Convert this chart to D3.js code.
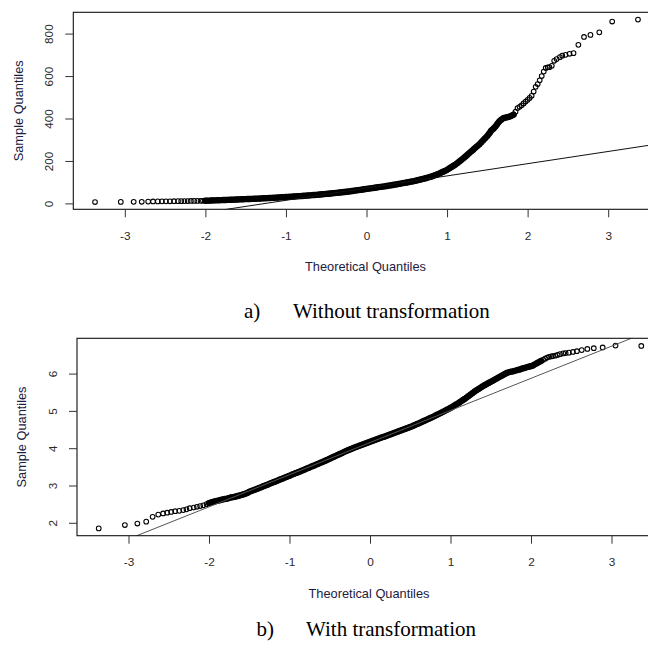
<!DOCTYPE html>
<html><head><meta charset="utf-8">
<script src="https://cdn.jsdelivr.net/npm/d3@7"></script>
<style>
html,body{margin:0;padding:0;background:#fff;}
svg{display:block;}
</style></head>
<body>
<svg id="chart" width="648" height="646"></svg>
<script>
// ---------------- data ----------------
const xTicks = [-3, -2, -1, 0, 1, 2, 3];
const topYTicks = [0, 200, 400, 600, 800];
const bottomYTicks = [2, 3, 4, 5, 6];
const xTitle = "Theoretical Quantiles";
const yTitle = "Sample Quantiles";
const captionLetters = ["a)", "b)"];
const captionTexts = ["Without transformation", "With transformation"];

// dense central band: theoretical quantile = bandStart + i * bandStep
const bandStart = -2.0;
const bandStep = 0.025;

// panel a) sample quantiles (original scale)
const topBand = [
  12.5,12.9,13.2,13.6,14.0,14.4,14.8,15.1,15.5,15.9,
  16.2,16.6,17.0,17.4,17.7,18.1,18.5,18.9,19.2,19.6,
  20.0,20.4,20.7,21.1,21.5,22.0,22.5,23.0,23.5,24.0,
  24.5,25.0,25.5,26.0,26.5,27.0,27.5,28.1,28.8,29.4,
  30.0,30.6,31.2,31.9,32.5,33.1,33.8,34.4,35.0,35.8,
  36.5,37.3,38.0,38.8,39.5,40.3,41.0,41.9,42.8,43.6,
  44.5,45.5,46.5,47.5,48.5,49.5,50.5,51.5,52.5,53.6,
  54.8,55.9,57.0,58.4,59.8,61.1,62.5,63.9,65.3,66.6,
  68.0,69.4,70.8,72.1,73.5,74.9,76.3,77.6,79.0,80.5,
  82.0,83.5,85.0,86.6,88.3,89.9,91.5,93.3,95.0,96.8,
  98.5,100.4,102.3,104.1,106.0,108.3,110.5,112.8,115.0,117.8,
  120.5,123.3,126.0,129.5,133.0,136.5,140.0,144.5,149.0,153.5,
  158,164,170,176,182,189,197,204,212,220,
  228,237,245,253,262,270,278,288,298,308,
  318,330,344,352,362,375,387,395,402,404,
  406,409,413,418,432,449,455,462,471,480,
  488,497,507,527,549,562,580,600,621,638,
  641
];
const topLowTail = [
  [-3.37,6.5],[-3.05,7.0],[-2.89,7.3],[-2.79,7.6],[-2.71,8.5],[-2.65,9.0],
  [-2.59,9.3],[-2.54,9.6],[-2.49,9.8],[-2.44,10.0],[-2.39,10.2],[-2.34,10.4],
  [-2.30,10.6],[-2.26,10.9],[-2.22,11.1],[-2.18,11.3],[-2.14,11.5],[-2.10,11.8],
  [-2.06,12.1],[-2.03,12.3]
];
const topHighTail = [
  [2.27,642],[2.30,648],[2.33,672],[2.36,680],[2.40,689],[2.43,696],[2.47,700],
  [2.52,705],[2.57,708],[2.63,747],[2.70,784],[2.78,794],[2.89,806],[3.05,857],[3.37,866]
];
const topQuartiles = [33.2, 110.8];   // sample Q1, Q3 used by the reference line

// panel b) sample quantiles (log scale)
const bottomBand = [
  2.53,2.545,2.56,2.575,2.59,2.60,2.615,2.63,2.64,2.65,
  2.665,2.68,2.69,2.70,2.715,2.73,2.745,2.76,2.78,2.80,
  2.83,2.85,2.87,2.89,2.915,2.935,2.955,2.98,3.00,3.02,
  3.045,3.065,3.09,3.11,3.13,3.155,3.175,3.195,3.22,3.24,
  3.26,3.285,3.305,3.33,3.35,3.37,3.395,3.415,3.44,3.465,
  3.485,3.51,3.53,3.555,3.575,3.60,3.62,3.645,3.67,3.695,
  3.72,3.745,3.77,3.795,3.82,3.845,3.87,3.895,3.92,3.943,
  3.965,3.988,4.01,4.03,4.05,4.07,4.09,4.11,4.13,4.15,
  4.17,4.19,4.21,4.23,4.25,4.27,4.29,4.31,4.33,4.35,
  4.37,4.39,4.41,4.43,4.45,4.47,4.49,4.51,4.53,4.55,
  4.57,4.59,4.615,4.64,4.66,4.685,4.71,4.735,4.76,4.785,
  4.81,4.835,4.86,4.89,4.915,4.94,4.97,4.995,5.025,5.05,
  5.08,5.11,5.145,5.18,5.21,5.25,5.285,5.32,5.36,5.40,
  5.44,5.48,5.52,5.555,5.59,5.625,5.66,5.69,5.72,5.75,
  5.78,5.81,5.84,5.87,5.90,5.93,5.96,5.99,6.02,6.035,
  6.05,6.06,6.075,6.09,6.105,6.12,6.14,6.155,6.17,6.185,
  6.20,6.22,6.25,6.28,6.31,6.34,6.37,6.40,6.43,6.45,
  6.46
];
const bottomLowTail = [
  [-3.37,1.85],[-3.045,1.94],[-2.89,1.98],[-2.78,2.03],[-2.70,2.16],[-2.63,2.22],
  [-2.57,2.25],[-2.52,2.27],[-2.47,2.29],[-2.42,2.31],[-2.37,2.32],[-2.32,2.34],
  [-2.28,2.36],[-2.24,2.39],[-2.19,2.41],[-2.15,2.43],[-2.11,2.45],[-2.07,2.47],[-2.03,2.50]
];
const bottomHighTail = [
  [2.27,6.47],[2.30,6.48],[2.33,6.50],[2.36,6.52],[2.40,6.54],[2.43,6.55],[2.47,6.56],
  [2.52,6.58],[2.57,6.60],[2.63,6.63],[2.70,6.66],[2.78,6.68],[2.89,6.70],[3.05,6.75],[3.37,6.74]
];
const bottomQuartiles = [3.569, 4.731];

// ---------------- drawing ----------------
const svg = d3.select("#chart");
const FONT = "'Liberation Sans', Arial, Helvetica, sans-serif";
const SERIF = "'Liberation Serif', 'Times New Roman', serif";
const Z75 = 0.6744898;

function bandPoints(values) {
  return values.map((v, i) => [bandStart + i * bandStep, v]);
}

function drawPanel(cfg, idx) {
  const band = bandPoints(cfg.band);
  const pts = cfg.low.concat(band, cfg.high);
  const pad = e => { const r = e[1] - e[0]; return [e[0] - 0.04 * r, e[1] + 0.04 * r]; };
  const x = d3.scaleLinear().domain(pad(d3.extent(pts, d => d[0]))).range([cfg.left, cfg.left + cfg.w]);
  const y = d3.scaleLinear().domain(pad(d3.extent(pts, d => d[1]))).range([cfg.top + cfg.h, cfg.top]);

  const g = svg.append("g");
  const clipId = "clip" + idx;
  svg.append("clipPath").attr("id", clipId).append("rect")
    .attr("x", cfg.left).attr("y", cfg.top).attr("width", cfg.w).attr("height", cfg.h);

  // overplotted solid core of the band
  const solid = band.filter(d => d[0] <= cfg.solidMax);
  g.append("path")
    .attr("d", d3.line().x(d => x(d[0])).y(d => y(d[1]))(solid))
    .attr("fill", "none").attr("stroke", "#000").attr("stroke-width", 6.4)
    .attr("stroke-linecap", "round").attr("stroke-linejoin", "round");

  // points
  g.append("g").selectAll("circle").data(pts).join("circle")
    .attr("cx", d => x(d[0])).attr("cy", d => y(d[1])).attr("r", 2.35)
    .attr("fill", "none").attr("stroke", "#000").attr("stroke-width", 1.05);

  // qq reference line through quartiles
  const slope = (cfg.quart[1] - cfg.quart[0]) / (2 * Z75);
  const inter = cfg.quart[0] + Z75 * slope;
  const xd = x.domain();
  g.append("line").attr("clip-path", `url(#${clipId})`)
    .attr("x1", x(xd[0])).attr("y1", y(inter + slope * xd[0]))
    .attr("x2", x(xd[1])).attr("y2", y(inter + slope * xd[1]))
    .attr("stroke", cfg.lineColor).attr("stroke-width", 1);

  // box
  g.append("rect").attr("x", cfg.left).attr("y", cfg.top)
    .attr("width", cfg.w).attr("height", cfg.h)
    .attr("fill", "none").attr("stroke", "#111").attr("stroke-width", 1.1);

  // x axis
  const xa = g.append("g").attr("transform", `translate(0,${cfg.top + cfg.h})`)
    .call(d3.axisBottom(x).tickValues(xTicks).tickSize(8).tickFormat(d => d));
  xa.select(".domain").remove();
  xa.selectAll(".tick line").attr("stroke", "#333");
  xa.selectAll(".tick text").attr("y", 26.5).attr("dy", "0.35em")
    .attr("font-family", FONT).attr("font-size", 11.8).attr("fill", "#2b2b2b");

  // y axis
  const ya = g.append("g").attr("transform", `translate(${cfg.left},0)`)
    .call(d3.axisLeft(y).tickValues(cfg.yTicks).tickSize(8).tickFormat(d => d));
  ya.select(".domain").remove();
  ya.selectAll(".tick line").attr("stroke", "#333");
  ya.selectAll(".tick text").attr("x", null).attr("dy", "0.35em")
    .attr("text-anchor", "middle").attr("transform", "translate(-24.5,0) rotate(-90)")
    .attr("font-family", FONT).attr("font-size", 11.8).attr("fill", "#2b2b2b");

  // titles
  g.append("text").attr("x", cfg.left + cfg.w / 2 - 1).attr("y", cfg.top + cfg.h + 57.5)
    .attr("dy", "0.35em").attr("text-anchor", "middle")
    .attr("font-family", FONT).attr("font-size", 12.8).attr("fill", "#1c2040").text(xTitle);
  g.append("text")
    .attr("transform", `translate(${cfg.left - 55},${cfg.top + cfg.h / 2}) rotate(-90)`)
    .attr("dy", "0.35em").attr("text-anchor", "middle")
    .attr("font-family", FONT).attr("font-size", 12.8).attr("fill", "#1c2040").text(yTitle);

  // caption
  svg.append("text").attr("x", cfg.capX).attr("y", cfg.capY)
    .attr("font-family", SERIF).attr("font-size", 21).attr("fill", "#000")
    .text(captionLetters[idx]);
  svg.append("text").attr("x", cfg.capX2).attr("y", cfg.capY)
    .attr("font-family", SERIF).attr("font-size", 21).attr("fill", "#000")
    .text(captionTexts[idx]);
}

drawPanel({
  band: topBand, low: topLowTail, high: topHighTail, quart: topQuartiles,
  yTicks: topYTicks, left: 73.3, top: 12.3, w: 586.4, h: 197,
  solidMax: 1.83, lineColor: "#111", capX: 244, capX2: 293, capY: 318
}, 0);

drawPanel({
  band: bottomBand, low: bottomLowTail, high: bottomHighTail, quart: bottomQuartiles,
  yTicks: bottomYTicks, left: 77, top: 338.3, w: 586, h: 197.4,
  solidMax: 2.15, lineColor: "#555", capX: 256.5, capX2: 306, capY: 636
}, 1);
</script>
</body></html>
